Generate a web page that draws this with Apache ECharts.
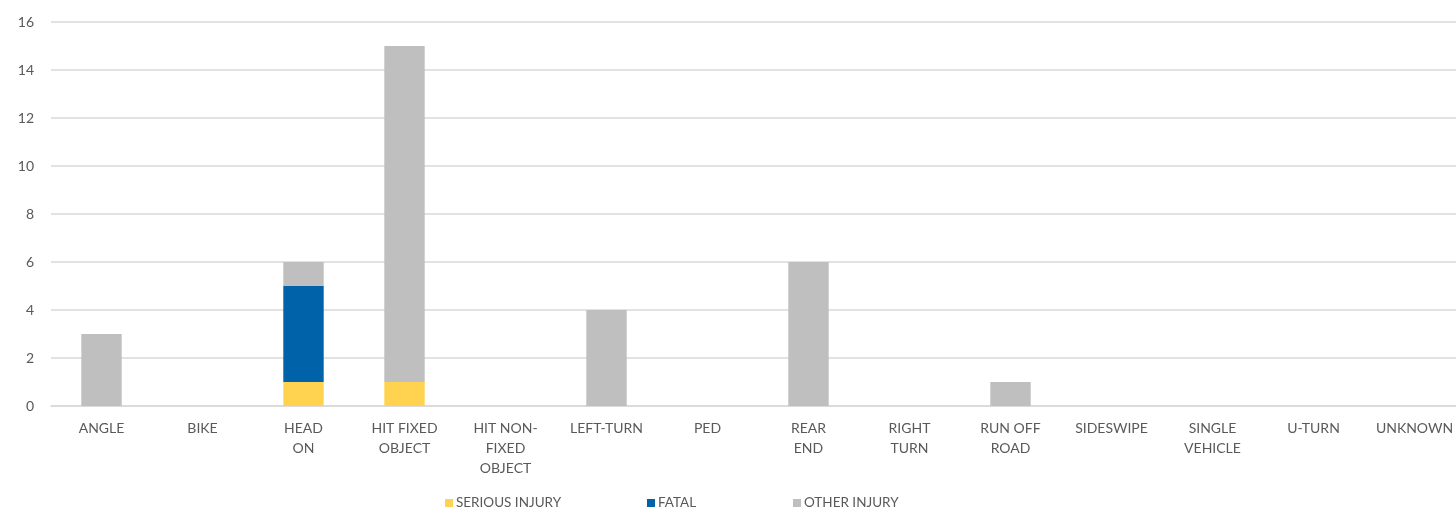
<!DOCTYPE html>
<html>
<head>
<meta charset="utf-8">
<script src="https://cdn.jsdelivr.net/npm/echarts@6/dist/echarts.min.js"></script>
<style>html,body{margin:0;padding:0;background:#fff;overflow:hidden;}#c{width:1466px;height:510px;}</style>
</head>
<body>
<div id="c"></div>
<script>
const categories = ['ANGLE','BIKE','HEAD\nON','HIT FIXED\nOBJECT','HIT NON-\nFIXED\nOBJECT','LEFT-TURN','PED','REAR\nEND','RIGHT\nTURN','RUN OFF\nROAD','SIDESWIPE','SINGLE\nVEHICLE','U-TURN','UNKNOWN'];
const seriesNames = ['SERIOUS INJURY','FATAL','OTHER INJURY'];
const seriousInjury = [0,0,1,1,0,0,0,0,0,0,0,0,0,0];
const fatal = [0,0,4,0,0,0,0,0,0,0,0,0,0,0];
const otherInjury = [3,0,1,14,0,4,0,6,0,1,0,0,0,0];
const yTicks = [0,2,4,6,8,10,12,14,16];

const font = 'Lato, "Open Sans", sans-serif';
const chart = echarts.init(document.getElementById('c'));
const mk = (name, data, color) => ({
  name, type: 'bar', stack: 'a', barWidth: '40%',
  data: data.map(v => v === 0 ? '-' : v),
  itemStyle: { color }
});
const legendLefts = [440, 642, 788];
chart.setOption({
  animation: false,
  grid: { left: 51, top: 22, right: 1, bottom: 104, containLabel: false },
  legend: seriesNames.map((n, i) => ({
    data: [n], top: 491, left: legendLefts[i], itemWidth: 8, itemHeight: 8,
    icon: 'rect', itemGap: 0,
    textStyle: { color: '#595959', fontSize: 13.5, fontFamily: font, padding: [0, 0, 0, -2] }
  })),
  xAxis: {
    type: 'category', data: categories,
    axisLine: { lineStyle: { color: '#D9D9D9', width: 1.5 } },
    axisTick: { show: false },
    axisLabel: { color: '#595959', fontSize: 14, fontFamily: font, lineHeight: 20, margin: 12, interval: 0 }
  },
  yAxis: {
    type: 'value', min: yTicks[0], max: yTicks[yTicks.length-1], interval: 2,
    axisLine: { show: false }, axisTick: { show: false },
    axisLabel: { color: '#595959', fontSize: 14, fontFamily: font, margin: 17 },
    splitLine: { lineStyle: { color: '#D9D9D9', width: 1.5 } }
  },
  series: [
    mk(seriesNames[0], seriousInjury, '#FFD34F'),
    mk(seriesNames[1], fatal, '#0062A9'),
    mk(seriesNames[2], otherInjury, '#BFBFBF')
  ]
});
</script>
</body>
</html>
